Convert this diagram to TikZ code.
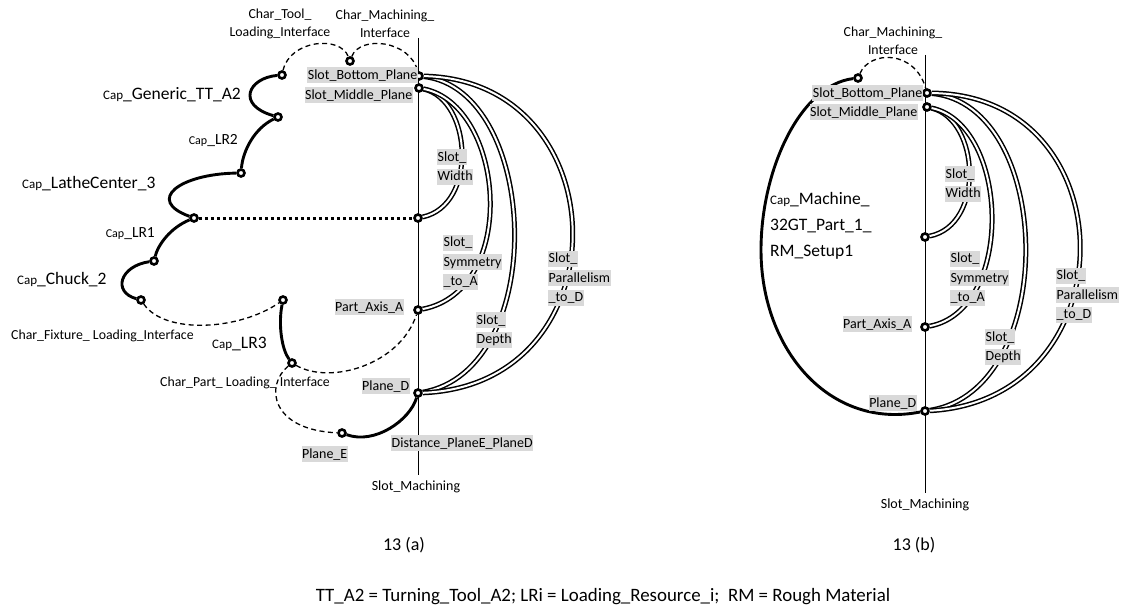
\documentclass[tikz,border=0pt]{standalone}
\usepackage{fontspec}
\setmainfont{Carlito}
\usetikzlibrary{positioning}
\definecolor{lblgray}{HTML}{D9D9D9}
% grey highlight behind one line of a label
\newcommand{\hl}[1]{{\setlength{\fboxsep}{0.5pt}\colorbox{lblgray}{\rule[-3.5pt]{0pt}{15pt}#1}}}
% small "Cap" prefix
\newcommand{\capname}[2][13]{{\fontsize{#1}{#1}\selectfont Cap}#2}

\begin{document}
\begin{tikzpicture}[x=1pt,y=-1pt,
  port/.style={circle,draw,fill=white,line width=2.6pt,minimum size=7pt,inner sep=0pt},
  capcurve/.style={line width=2.9pt},
  charcurve/.style={line width=1.3pt,dash pattern=on 5pt off 3.5pt},
  geomrel/.style={double,line width=1.5pt,double distance=2pt},
  lbl/.style={font=\fontsize{14}{19.5}\selectfont,inner sep=0pt,align=left},
  charlbl/.style={font=\fontsize{13.8}{18}\selectfont,inner sep=0pt,align=center},
  caplbl/.style={font=\fontsize{17.5}{26}\selectfont,inner sep=0pt,align=left}]
\useasboundingbox (0,0) rectangle (1131,610);

  % ---------- 13 (a) ----------
  \coordinate (aTop) at (418,38);
  \coordinate (aBot) at (418,475);
  \draw[line width=0.8pt] (aTop) -- (aBot); % slot machining axis

  % ports
  \node[port] (aTool)   at (282,75)  {};
  \node[port] (aMach)   at (350,61)  {};
  \node[port] (aBottom) at (419,76)  {};
  \node[port] (aMiddle) at (419,88)  {};
  \node[port] (aTT)     at (278,117) {};
  \node[port] (aLRtwo)  at (241,173) {};
  \node[port] (aLathe)  at (194,218) {};
  \node[port] (aWidth)  at (418,218) {};
  \node[port] (aLRone)  at (154,261) {};
  \node[port] (aChuck)  at (141,300) {};
  \node[port] (aLRthree) at (283,300) {};
  \node[port] (aPart)   at (292,363) {};
  \node[port] (aAxis)   at (418,310) {};
  \node[port] (aPlaneD) at (418,393) {};
  \node[port] (aPlaneE) at (342,433) {};

  % capability chain
  \draw[capcurve] (aTool) .. controls (248,78) and (236,105) .. (aTT);
  \draw[capcurve] (aTT) .. controls (255,128) and (243,150) .. (aLRtwo);
  \draw[capcurve] (aLRtwo) .. controls (180,174) and (145,200) .. (aLathe);
  \draw[line width=3pt,dash pattern=on 3pt off 3pt] (aLathe) -- (aWidth);
  \draw[capcurve] (aLathe) .. controls (170,228) and (158,245) .. (aLRone);
  \draw[capcurve] (aLRone) .. controls (120,266) and (112,292) .. (aChuck);
  \draw[capcurve] (aLRthree) .. controls (278,325) and (282,350) .. (aPart);
  \draw[capcurve] (aPlaneE) .. controls (375,445) and (410,420) .. (aPlaneD);

  % interfaces
  \draw[charcurve] (aTool) .. controls (290,40) and (340,35) .. (aMach);
  \draw[charcurve] (aMach) .. controls (360,35) and (410,40) .. (aBottom);
  \draw[charcurve] (aChuck) .. controls (165,335) and (240,330) .. (aLRthree);
  \draw[charcurve] (aPart) .. controls (330,385) and (400,365) .. (aAxis);
  \draw[charcurve] (aPart) .. controls (265,385) and (270,430) .. (aPlaneE);

  % geometric relations
  \draw[geomrel] (aMiddle) .. controls (472,100) and (478,205) .. (aWidth);
  \draw[geomrel] (aMiddle) .. controls (505,105) and (520,290) .. (aAxis);
  \draw[geomrel] (aBottom) .. controls (540,90) and (550,370) .. (aPlaneD);
  \draw[geomrel] (aBottom) .. controls (620,80) and (625,385) .. (aPlaneD);

  % labels
  \node[charlbl] (aToolLbl) at (280,24) {Char\_Tool\_\\Loading\_Interface};
  \node[charlbl] (aMachLbl) at (385,24) {Char\_Machining\_\\Interface};
  \node[lbl,anchor=east] (aBottomLbl) at (418,75) {\hl{Slot\_Bottom\_Plane}};
  \node[lbl,anchor=east] (aMiddleLbl) at (413,95) {\hl{Slot\_Middle\_Plane}};
  \node[lbl,anchor=west] (aWidthLbl) at (437,167) {\hl{Slot\_}\\\hl{Width}};
  \node[lbl,anchor=west] (aSymLbl) at (443,262) {\hl{Slot\_}\\\hl{Symmetry}\\\hl{\_to\_A}};
  \node[lbl,anchor=east] (aAxisLbl) at (404,307) {\hl{Part\_Axis\_A}};
  \node[lbl,anchor=west] (aDepthLbl) at (476,330) {\hl{Slot\_}\\\hl{Depth}};
  \node[lbl,anchor=west] (aParLbl) at (548,278) {\hl{Slot\_}\\\hl{Parallelism}\\\hl{\_to\_D}};
  \node[lbl,anchor=east] (aPlaneDLbl) at (410,386) {\hl{Plane\_D}};
  \node[lbl,anchor=west] (aDistLbl) at (391,443) {\hl{Distance\_PlaneE\_PlaneD}};
  \node[lbl,anchor=east] (aPlaneELbl) at (348,454) {\hl{Plane\_E}};
  \node[lbl] (aSlotLbl) at (416,487) {Slot\_Machining};

  \node[caplbl,anchor=east] (aTTLbl) at (241,95) {\capname{\_Generic\_TT\_A2}};
  \node[caplbl,anchor=east,font=\fontsize{15.5}{18}\selectfont] (aLRtwoLbl) at (238,141) {\capname[12]{\_LR2}};
  \node[caplbl,anchor=west] (aLatheLbl) at (22,184) {\capname{\_LatheCenter\_3}};
  \node[caplbl,anchor=east,font=\fontsize{15.5}{18}\selectfont] (aLRoneLbl) at (155,234) {\capname[12]{\_LR1}};
  \node[caplbl,anchor=west] (aChuckLbl) at (17,280) {\capname{\_Chuck\_2}};
  \node[caplbl,anchor=west] (aLRthreeLbl) at (212,344) {\capname{\_LR3}};
  \node[charlbl,anchor=west] (aFixLbl) at (11,336) {Char\_Fixture\_ Loading\_Interface};
  \node[charlbl,anchor=west] (aPartLbl) at (160,383) {Char\_Part\_ Loading\_ Interface};

  % ---------- 13 (b) ----------
  \coordinate (bTop) at (925,55);
  \coordinate (bBot) at (925,493);
  \draw[line width=0.8pt] (bTop) -- (bBot);

  \node[port] (bMach)   at (858,78)  {};
  \node[port] (bBottom) at (927,93)  {};
  \node[port] (bMiddle) at (927,107) {};
  \node[port] (bWidth)  at (925,237) {};
  \node[port] (bAxis)   at (925,327) {};
  \node[port] (bPlaneD) at (925,411) {};
  \coordinate (bLeft) at (761,250);

  \draw[charcurve] (bMach) .. controls (870,50) and (915,50) .. (bBottom);
  \draw[capcurve] (bMach) .. controls (800,85) and (761,170) .. (bLeft)
    .. controls (761,350) and (830,430) .. (bPlaneD);

  \draw[geomrel] (bMiddle) .. controls (980,120) and (985,225) .. (bWidth);
  \draw[geomrel] (bMiddle) .. controls (1010,125) and (1015,310) .. (bAxis);
  \draw[geomrel] (bBottom) .. controls (1055,105) and (1060,390) .. (bPlaneD);
  \draw[geomrel] (bBottom) .. controls (1130,95) and (1130,400) .. (bPlaneD);

  \node[charlbl] (bMachLbl) at (893,41) {Char\_Machining\_\\Interface};
  \node[lbl,anchor=east] (bBottomLbl) at (923,93) {\hl{Slot\_Bottom\_Plane}};
  \node[lbl,anchor=east] (bMiddleLbl) at (918,112) {\hl{Slot\_Middle\_Plane}};
  \node[lbl,anchor=west] (bWidthLbl) at (945,184) {\hl{Slot\_}\\\hl{Width}};
  \node[caplbl,anchor=west] (bMachineLbl) at (770,226) {\capname{\_Machine\_}\\32GT\_Part\_1\_\\RM\_Setup1};
  \node[lbl,anchor=west] (bSymLbl) at (950,278) {\hl{Slot\_}\\\hl{Symmetry}\\\hl{\_to\_A}};
  \node[lbl,anchor=west] (bDepthLbl) at (985,347) {\hl{Slot\_}\\\hl{Depth}};
  \node[lbl,anchor=west] (bParLbl) at (1056,295) {\hl{Slot\_}\\\hl{Parallelism}\\\hl{\_to\_D}};
  \node[lbl,anchor=east] (bAxisLbl) at (912,324) {\hl{Part\_Axis\_A}};
  \node[lbl,anchor=east] (bPlaneDLbl) at (917,403) {\hl{Plane\_D}};
  \node[lbl] (bSlotLbl) at (925,505) {Slot\_Machining};

  % captions
  \node[font=\fontsize{18}{20}\selectfont] (capA) at (404,545) {13 (a)};
  \node[font=\fontsize{18}{20}\selectfont] (capB) at (914,545) {13 (b)};
  \node[font=\fontsize{18.9}{21}\selectfont] (legend) at (603,597) {TT\_A2 = Turning\_Tool\_A2; LRi = Loading\_Resource\_i;\ \ RM = Rough Material};
\end{tikzpicture}
\end{document}
